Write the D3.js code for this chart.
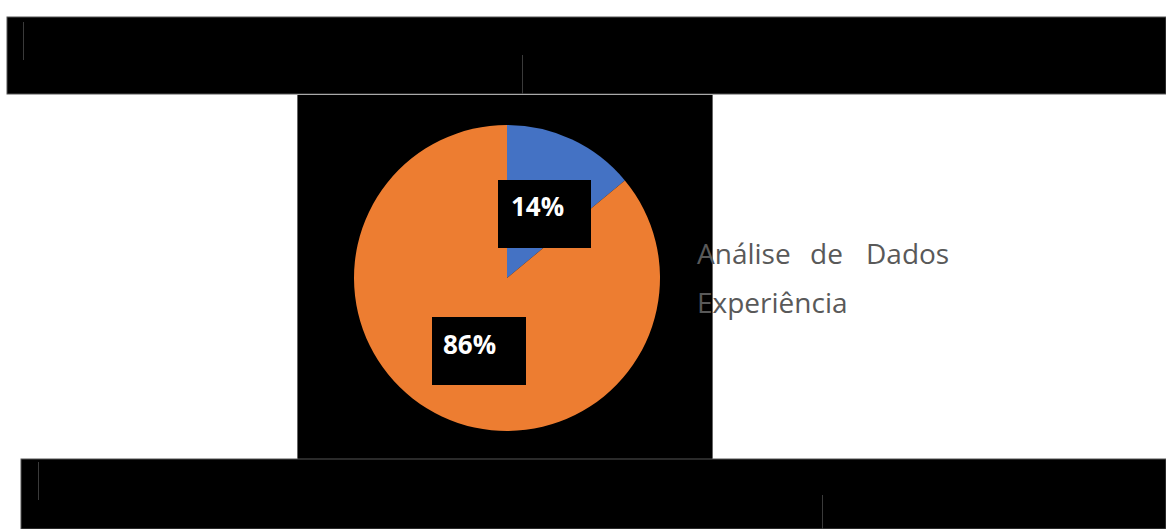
<!DOCTYPE html>
<html>
<head>
<meta charset="utf-8">
<script src="https://cdn.jsdelivr.net/npm/d3@7"></script>
<style>
html,body{margin:0;padding:0;background:#fff;}
svg{display:block;}
</style>
</head>
<body>
<svg id="chart" width="1166" height="529"></svg>
<script>
const categories = ["Análise de Dados", "Experiência"];
const values = [14, 86];
const colors = ["#4472C4", "#ED7D31"];
const labels = ["14%", "86%"];

const svg = d3.select("#chart");
const W = 1166, H = 529;

// background blocks
svg.append("rect").attr("x",0).attr("y",0).attr("width",W).attr("height",H).attr("fill","#fff");
svg.append("rect").attr("x",7).attr("y",17).attr("width",W-7).attr("height",77).attr("fill","#000")
  .attr("stroke","#555").attr("stroke-width",1);
svg.append("rect").attr("x",297).attr("y",95).attr("width",416).attr("height",365).attr("fill","#000");
svg.append("rect").attr("x",21).attr("y",459).attr("width",W-21).attr("height",70).attr("fill","#000")
  .attr("stroke","#555").attr("stroke-width",1);
svg.append("line").attr("x1",297.5).attr("x2",297.5).attr("y1",95).attr("y2",459).attr("stroke","#666");
svg.append("line").attr("x1",712.5).attr("x2",712.5).attr("y1",95).attr("y2",459).attr("stroke","#666");
// faint artifact lines
[[522,55,94],[23,22,60],[38,462,500],[822,495,529]].forEach(([x,y1,y2])=>{
  svg.append("line").attr("x1",x+0.5).attr("x2",x+0.5).attr("y1",y1).attr("y2",y2).attr("stroke","#3a3a3a");
});

// pie
const cx = 507, cy = 278, r = 153;
const pie = d3.pie().sort(null).value(d=>d);
const arcs = pie(values);
const arc = d3.arc().innerRadius(0).outerRadius(r);
const g = svg.append("g").attr("transform",`translate(${cx},${cy})`);
g.selectAll("path").data(arcs).enter().append("path")
  .attr("d",arc).attr("fill",(d,i)=>colors[i]);

// label boxes
const boxes = [
  {x:498, y:180, w:93, h:68, tx:511, ty:216},
  {x:432, y:317, w:94, h:68, tx:443, ty:354}
];
boxes.forEach((b,i)=>{
  svg.append("rect").attr("x",b.x).attr("y",b.y).attr("width",b.w).attr("height",b.h).attr("fill","#000");
  svg.append("text").attr("x",b.tx).attr("y",b.ty).text(labels[i])
    .attr("font-family","'Open Sans', sans-serif").attr("font-weight","bold")
    .attr("font-size",26).attr("fill","#fff");
});

// legend text (justified first line)
const legendFont = {family:"'Open Sans', sans-serif", size:28, color:"#595959"};
const line1 = categories[0].split(" ");
const line1X = [697, 810, 866];
line1.forEach((w,i)=>{
  svg.append("text").attr("x",line1X[i]).attr("y",264).text(w)
    .attr("font-family",legendFont.family).attr("font-size",legendFont.size).attr("fill",legendFont.color);
});
svg.append("text").attr("x",697).attr("y",313).text(categories[1])
  .attr("font-family",legendFont.family).attr("font-size",legendFont.size).attr("fill",legendFont.color);
</script>
</body>
</html>
